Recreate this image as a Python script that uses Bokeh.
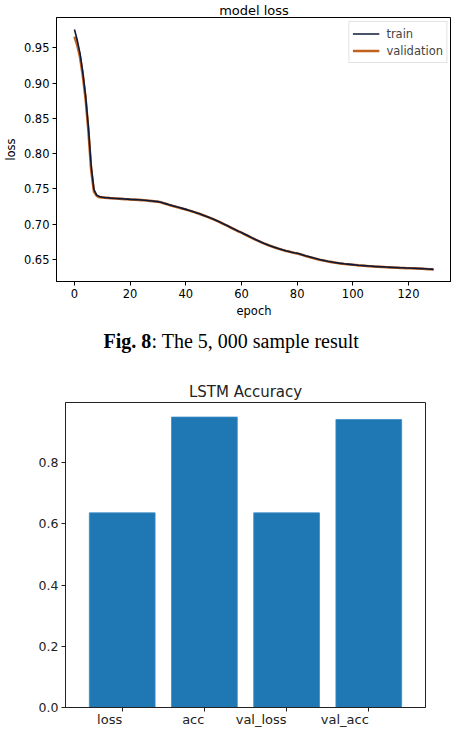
from bokeh.plotting import figure
from bokeh.models import (Range1d, FactorRange, Legend, LegendItem, NumeralTickFormatter, Label)
from bokeh.core.properties import value
from bokeh.embed import file_html
from bokeh.resources import INLINE

# ---------------- data ----------------
epochs = list(range(130))
train_loss = [
    0.976, 0.961, 0.942, 0.915, 0.882, 0.838, 0.783, 0.749, 0.741, 0.739,
    0.7380, 0.7375, 0.7372, 0.7368, 0.7365, 0.7362, 0.7360, 0.7358, 0.7355, 0.7353,
    0.7350, 0.7348, 0.7346, 0.7344, 0.7341, 0.7338, 0.7334, 0.7330, 0.7326, 0.7322,
    0.7318, 0.7310, 0.7298, 0.7286, 0.7274, 0.7263, 0.7252, 0.7241, 0.7230, 0.7219,
    0.7208, 0.7196, 0.7184, 0.7171, 0.7158, 0.7145, 0.7130, 0.7115, 0.7100, 0.7084,
    0.7068, 0.7050, 0.7032, 0.7013, 0.6994, 0.6975, 0.6955, 0.6935, 0.6915, 0.6896,
    0.6880, 0.6860, 0.6840, 0.6820, 0.6800, 0.6781, 0.6763, 0.6745, 0.6728, 0.6712,
    0.6697, 0.6683, 0.6669, 0.6656, 0.6644, 0.6632, 0.6621, 0.6611, 0.6601, 0.6592,
    0.6586, 0.6574, 0.6562, 0.6550, 0.6539, 0.6528, 0.6517, 0.6507, 0.6497, 0.6488,
    0.6480, 0.6472, 0.6465, 0.6458, 0.6452, 0.6446, 0.6441, 0.6436, 0.6432, 0.6428,
    0.6424, 0.6420, 0.6416, 0.6413, 0.6410, 0.6407, 0.6404, 0.6401, 0.6398, 0.6396,
    0.6394, 0.6392, 0.6390, 0.6388, 0.6386, 0.6384, 0.6382, 0.6380, 0.6379, 0.6377,
    0.6376, 0.6374, 0.6373, 0.6371, 0.6369, 0.6367, 0.6365, 0.6362, 0.6360, 0.6357,
]
val_loss = [
    0.966, 0.954, 0.937, 0.911, 0.878, 0.833, 0.777, 0.746, 0.740, 0.738,
    0.7378, 0.7374, 0.7371, 0.7367, 0.7364, 0.7362, 0.7359, 0.7357, 0.7354, 0.7352,
    0.7349, 0.7347, 0.7345, 0.7343, 0.7340, 0.7337, 0.7333, 0.7329, 0.7325, 0.7321,
    0.7316, 0.7308, 0.7296, 0.7284, 0.7272, 0.7261, 0.7250, 0.7239, 0.7228, 0.7217,
    0.7206, 0.7194, 0.7182, 0.7169, 0.7156, 0.7143, 0.7128, 0.7113, 0.7098, 0.7082,
    0.7066, 0.7048, 0.7030, 0.7011, 0.6992, 0.6973, 0.6953, 0.6933, 0.6913, 0.6894,
    0.6878, 0.6858, 0.6838, 0.6818, 0.6798, 0.6779, 0.6761, 0.6743, 0.6726, 0.6710,
    0.6695, 0.6681, 0.6667, 0.6654, 0.6642, 0.6630, 0.6619, 0.6609, 0.6599, 0.6590,
    0.6584, 0.6572, 0.6560, 0.6548, 0.6537, 0.6526, 0.6515, 0.6505, 0.6495, 0.6486,
    0.6478, 0.6470, 0.6463, 0.6456, 0.6450, 0.6444, 0.6439, 0.6434, 0.6430, 0.6426,
    0.6422, 0.6418, 0.6414, 0.6411, 0.6408, 0.6405, 0.6402, 0.6399, 0.6396, 0.6394,
    0.6392, 0.6390, 0.6388, 0.6386, 0.6384, 0.6382, 0.6380, 0.6378, 0.6377, 0.6375,
    0.6374, 0.6372, 0.6371, 0.6369, 0.6367, 0.6365, 0.6363, 0.6360, 0.6358, 0.6355,
]
epoch_ticks = [0, 20, 40, 60, 80, 100, 120]
loss_ticks = [0.65, 0.70, 0.75, 0.80, 0.85, 0.90, 0.95]

metric_names = ["loss", "acc", "val_loss", "val_acc"]
metric_values = [0.636, 0.949, 0.636, 0.941]
acc_ticks = [0.0, 0.2, 0.4, 0.6, 0.8]

FONT = "DejaVu Sans"

# ---------------- top chart: model loss ----------------
p1 = figure(width=451, height=322, output_backend="svg", toolbar_location=None,
            x_range=Range1d(-6.45, 135.45), y_range=Range1d(0.6185, 0.993),
            min_border_left=53, min_border_right=0, min_border_top=0, min_border_bottom=41)
p1.title.text = "model loss"
p1.title.align = "center"
p1.title.text_font = FONT
p1.title.text_font_size = "13px"
p1.title.text_font_style = "normal"
p1.title.text_color = "black"
p1.title.standoff = 0
p1.xgrid.visible = False
p1.ygrid.visible = False
p1.outline_line_color = "black"
p1.outline_line_alpha = 1
p1.background_fill_color = "white"

r_val = p1.line(epochs, val_loss, line_color="#c0611f", line_width=2.6)
r_train = p1.line(epochs, train_loss, line_color="#0c1a38", line_width=1.6)

p1.xaxis.ticker = epoch_ticks
p1.yaxis.ticker = loss_ticks
p1.yaxis.formatter = NumeralTickFormatter(format="0.00")
p1.xaxis.axis_label = "epoch"
p1.yaxis.axis_label = "loss"
for ax in (p1.xaxis[0], p1.yaxis[0]):
    ax.major_label_text_font = FONT
    ax.major_label_text_font_size = "11.5px"
    ax.major_label_text_color = "black"
    ax.axis_label_text_font = FONT
    ax.axis_label_text_font_size = "11.5px"
    ax.axis_label_text_font_style = "normal"
    ax.axis_label_text_color = "black"
    ax.axis_line_color = "black"
    ax.major_tick_line_color = "black"
    ax.major_tick_out = 4
    ax.major_tick_in = 0
    ax.minor_tick_line_color = None
    ax.axis_label_standoff = 3
    ax.major_label_standoff = 3

legend = Legend(items=[LegendItem(label="train", renderers=[r_train]),
                       LegendItem(label="validation", renderers=[r_val])],
                location="top_right")
legend.label_text_font = FONT
legend.label_text_font_size = "11.5px"
legend.border_line_color = "#c8c8c8"
legend.background_fill_alpha = 0.9
legend.margin = 4
legend.padding = 3
legend.spacing = 0
legend.glyph_width = 27
legend.glyph_height = 17
legend.label_height = 17
legend.label_standoff = 7
p1.add_layout(legend)

# ---------------- caption ----------------
cap = figure(width=451, height=43, output_backend="svg", toolbar_location=None,
             x_range=Range1d(0, 451), y_range=Range1d(0, 43),
             min_border=0, min_border_left=0, min_border_right=0,
             min_border_top=0, min_border_bottom=0)
cap.axis.visible = False
cap.grid.visible = False
cap.outline_line_color = None
cap.add_layout(Label(x=103, y=25, x_units="screen", y_units="screen", text="Fig. 8",
                     text_font="Liberation Serif", text_font_size="20px",
                     text_font_style="bold", text_baseline="middle", text_color="black"))
cap.add_layout(Label(x=151, y=25, x_units="screen", y_units="screen",
                     text=": The 5, 000 sample result",
                     text_font="Liberation Serif", text_font_size="20px",
                     text_baseline="middle", text_color="black"))

# ---------------- bottom chart: LSTM Accuracy ----------------
p2 = figure(width=451, height=372, output_backend="svg", toolbar_location=None,
            x_range=FactorRange(factors=metric_names, range_padding=0.19,
                                range_padding_units="absolute"),
            y_range=Range1d(0, 0.9966),
            min_border_left=65, min_border_right=26, min_border_top=37, min_border_bottom=28)
p2.title.text = "LSTM Accuracy"
p2.title.align = "center"
p2.title.text_font = FONT
p2.title.text_font_size = "15px"
p2.title.text_font_style = "normal"
p2.title.text_color = "#222222"
p2.title.standoff = 4
p2.xgrid.visible = False
p2.ygrid.visible = False
p2.outline_line_color = "#222222"
p2.outline_line_alpha = 1

p2.vbar(x=metric_names, top=metric_values, width=0.8, fill_color="#1f77b4",
        line_color="#3a8cc6", line_width=0.8)

p2.yaxis.ticker = acc_ticks
p2.yaxis.formatter = NumeralTickFormatter(format="0.0")
for ax in (p2.xaxis[0], p2.yaxis[0]):
    ax.major_label_text_font = FONT
    ax.major_label_text_color = "#222222"
    ax.axis_line_color = "#222222"
    ax.major_tick_line_color = "#222222"
    ax.major_tick_out = 4
    ax.major_tick_in = 0
    ax.minor_tick_line_color = None
    ax.major_label_standoff = 3
p2.xaxis.major_label_standoff = 8
p2.xaxis.major_label_text_font_size = "13px"
p2.yaxis.major_label_text_font_size = "12.5px"
p2.xaxis.major_label_orientation = 0

open("out.html", "w").write(file_html([p1, cap, p2], INLINE))
